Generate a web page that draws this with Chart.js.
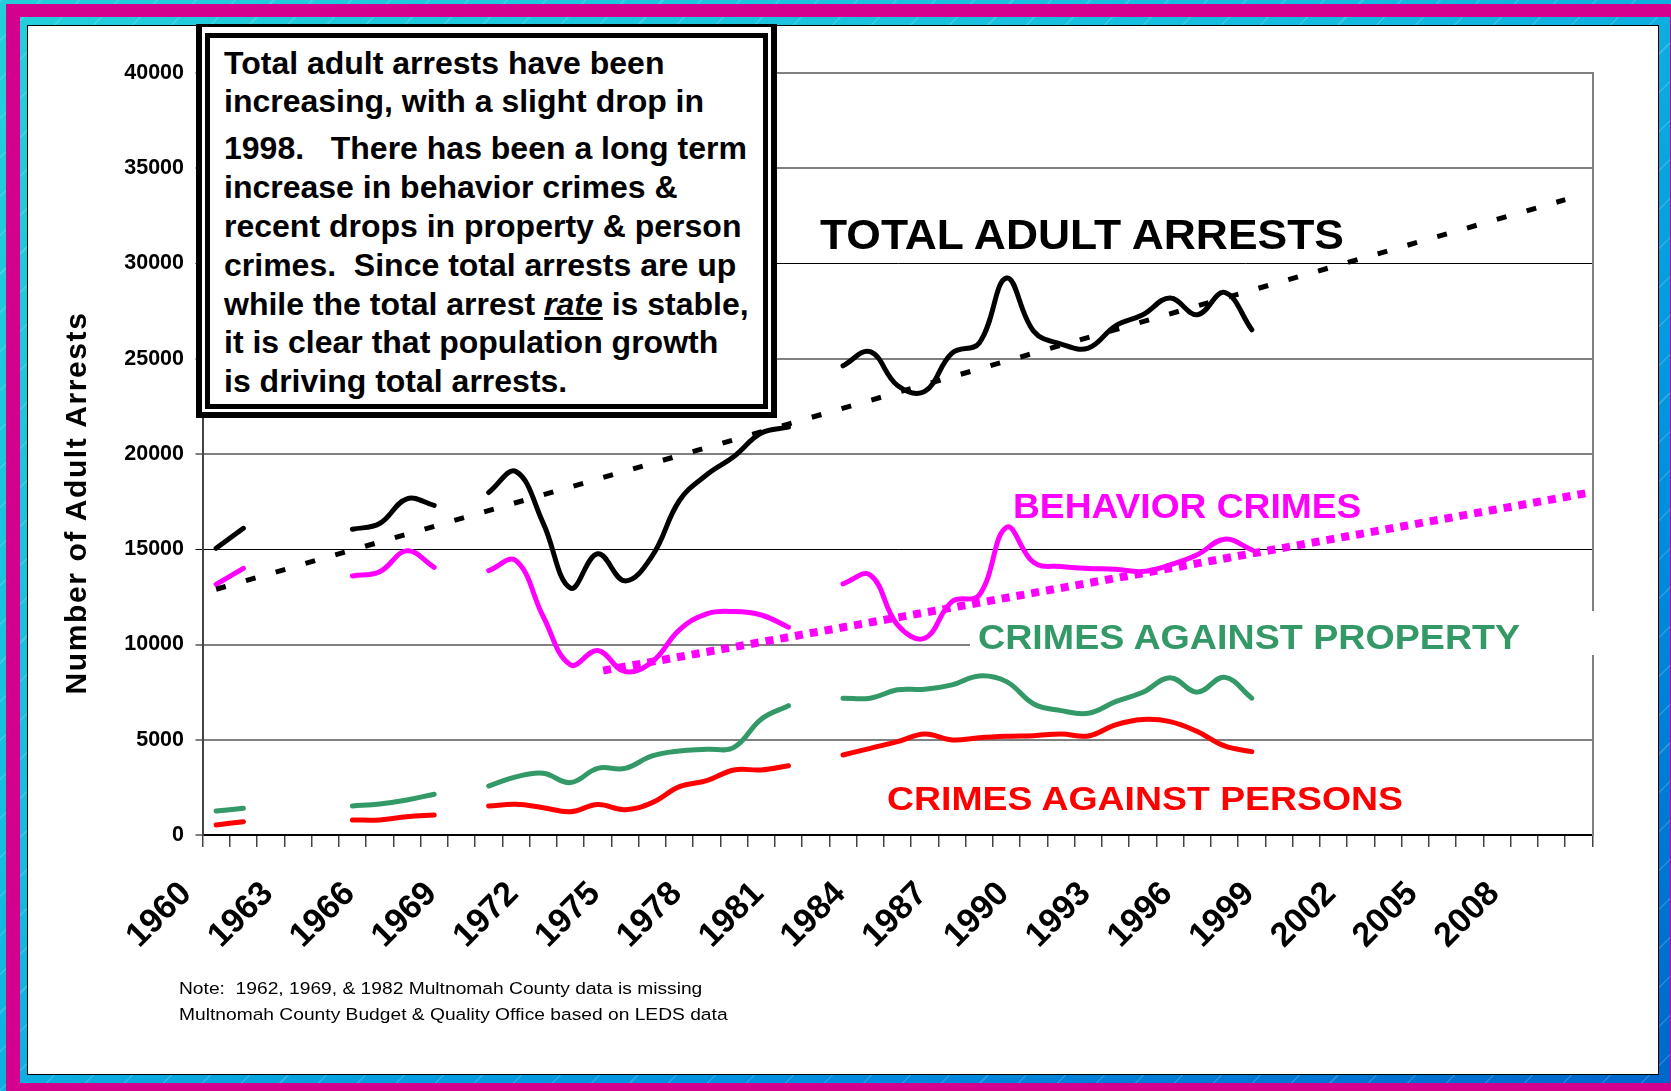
<!DOCTYPE html>
<html>
<head>
<meta charset="utf-8">
<script src="https://cdn.jsdelivr.net/npm/chart.js@4.4.1/dist/chart.umd.min.js"></script>
<style>
  html, body { margin: 0; padding: 0; }
  body {
    width: 1671px; height: 1091px; overflow: hidden; position: relative;
    background:
      repeating-linear-gradient(-45deg, rgba(255,255,255,0) 0 26px, rgba(255,255,255,0.16) 26px 27.5px),
      linear-gradient(to bottom right, #24cfdc 0%, #14bde0 40%, #0090e0 72%, #0066cc 100%);
    font-family: "Liberation Sans", Arial, sans-serif;
  }
  #frame { position: absolute; left: 6px; top: 4px; width: 1678px; height: 1093px; box-sizing: border-box;
    border: 14px solid #d4008e; border-top-width: 13px; }
  #panel { position: absolute; left: 27px; top: 25px; width: 1632px; height: 1050px; box-sizing: border-box;
    background: #fff; border: 1px solid #000; }
  #chart { position: absolute; left: 28px; top: 26px; }
  .lbl { position: absolute; white-space: nowrap; font-weight: bold; line-height: 1; transform-origin: left top; }
  #box { position: absolute; left: 196px; top: 24px; width: 581px; height: 394px; box-sizing: border-box;
    background: #fff; border: 6px solid #000; border-top-width: 3px; }
  #box .inner { position: absolute; left: 3px; top: 6px; right: 3px; bottom: 3px; border: 5px solid #000; }
  #boxtext { position: absolute; left: 224px; top: 43.5px; font-weight: bold; font-size: 32px;
    line-height: 38.8px; white-space: nowrap; color: #000; }
  #boxtext p { margin: 0; }
  #ytitle { position: absolute; left: -173.6px; top: 488px; width: 500px; height: 30px; text-align: center;
    font-weight: bold; font-size: 30px; line-height: 30px; letter-spacing: 1.6px; transform: rotate(-90deg); }
  .note { position: absolute; left: 179px; font-size: 16.3px; line-height: 1; white-space: nowrap;
    transform: scaleX(1.18); transform-origin: left top; }
  #propbg { position: absolute; left: 970px; top: 611px; width: 632px; height: 44px; background: #fff; }
</style>
</head>
<body>
<div id="frame"></div>
<div id="panel"></div>
<canvas id="chart" width="1630" height="1048" style="width:1630px;height:1048px"></canvas>

<div id="ytitle">Number of Adult Arrests</div>

<div id="box"><div class="inner"></div></div>
<div id="boxtext">
  <p>Total adult arrests have been<br>increasing, with a slight drop in</p>
  <p style="margin-top:8.4px">1998.&nbsp;&nbsp; There has been a long term<br>increase in behavior crimes &amp;<br>recent drops in property &amp; person<br>crimes.&nbsp; Since total arrests are up<br>while the total arrest <i><u>rate</u></i> is stable,<br>it is clear that population growth<br>is driving total arrests.</p>
</div>

<div class="lbl" style="left:819.8px; top:212.9px; font-size:43px; color:#000; transform:scaleX(1.033);">TOTAL ADULT ARRESTS</div>
<div class="lbl" style="left:1013.3px; top:487.7px; font-size:35px; color:#ff00ff; transform:scaleX(1.062);">BEHAVIOR CRIMES</div>
<div id="propbg"></div>
<div class="lbl" style="left:978.3px; top:620px; font-size:35.5px; color:#339966; transform:scaleX(1.06);">CRIMES AGAINST PROPERTY</div>
<div class="lbl" style="left:887.3px; top:780.9px; font-size:34px; color:#ff0000; transform:scaleX(1.1);">CRIMES AGAINST PERSONS</div>

<div class="note" style="top:979.6px;">Note:&nbsp; 1962, 1969, &amp; 1982 Multnomah County data is missing</div>
<div class="note" style="top:1005.6px;">Multnomah County Budget &amp; Quality Office based on LEDS data</div>

<script>
var years = ['1960', '1961', '1962', '1963', '1964', '1965', '1966', '1967', '1968', '1969',
             '1970', '1971', '1972', '1973', '1974', '1975', '1976', '1977', '1978', '1979',
             '1980', '1981', '1982', '1983', '1984', '1985', '1986', '1987', '1988', '1989',
             '1990', '1991', '1992', '1993', '1994', '1995', '1996', '1997', '1998', '1999',
             '2000', '2001', '2002', '2003', '2004', '2005', '2006', '2007', '2008', '2009', '2010'];
var tickYears = ['1960', '1963', '1966', '1969', '1972', '1975', '1978', '1981', '1984',
                 '1987', '1990', '1993', '1996', '1999', '2002', '2005', '2008'];

var totalArrests = [15050, 16100, null, null, null, 16050, 16350, 17650, 17300, null,
                    17980, 19080, 16370, 12960, 14760, 13340, 14650, 17560, 18910, 19870,
                    21100, 21410, null, 24630, 25370, 23600, 23290, 25300, 25830, 29240,
                    26440, 25770, 25560, 26730, 27310, 28190, 27310, 28480, 26520];
var behaviorCrimes = [13160, 14000, null, null, null, 13600, 13820, 14920, 14050, null,
                      13880, 14400, 11470, 8930, 9680, 8580, 9100, 10770, 11610, 11730,
                      11550, 10910, null, 13180, 13650, 11030, 10330, 12250, 12600, 16150,
                      14300, 14090, 13990, 13950, 13830, 14180, 14710, 15530, 14970];
var propertyCrimes = [1260, 1400, null, null, null, 1520, 1630, 1840, 2140, null,
                      2570, 3050, 3240, 2750, 3500, 3500, 4150, 4410, 4500, 4600,
                      6080, 6790, null, 7180, 7180, 7620, 7650, 7880, 8350, 8050,
                      6880, 6530, 6390, 7000, 7490, 8260, 7500, 8280, 7180];
var personsCrimes = [525, 700, null, null, null, 790, 790, 960, 1050, null,
                     1520, 1610, 1435, 1225, 1600, 1330, 1700, 2540, 2850, 3415,
                     3415, 3640, null, 4200, 4550, 4900, 5300, 4990, 5110, 5180,
                     5215, 5300, 5200, 5780, 6060, 5950, 5430, 4675, 4375];

// trend lines, end points only
var totalTrendYears = [1960, 2009.5];
var totalTrendValues = [12900, 33350];
var behaviorTrendYears = [1974.2, 2010.3];
var behaviorTrendValues = [8630, 17950];

function points(xs, ys) {
    return xs.map(function (x, i) { return { x: x, y: ys[i] }; });
}

function seriesLine(label, data, color) {
    return {
        label: label,
        data: data,
        xAxisID: 'x',
        borderColor: color,
        borderWidth: 5,
        borderCapStyle: 'round',
        borderJoinStyle: 'round',
        tension: 0.4,
        pointRadius: 0,
        spanGaps: false,
        fill: false
    };
}

Chart.defaults.font.family = '"Liberation Sans", Arial, sans-serif';
Chart.defaults.color = '#000';

var ctx = document.getElementById('chart').getContext('2d');

var myChart = new Chart(ctx, {
    type: 'line',
    data: {
        labels: years,
        datasets: [{
            label: 'Total trend',
            data: points(totalTrendYears, totalTrendValues),
            xAxisID: 'xt',
            borderColor: '#000',
            borderWidth: 5,
            borderDash: [10, 21],
            borderCapStyle: 'butt',
            tension: 0,
            pointRadius: 0,
            spanGaps: true
        }, {
            label: 'Behavior trend',
            data: points(behaviorTrendYears, behaviorTrendValues),
            xAxisID: 'xt',
            borderColor: '#ff00ff',
            borderWidth: 8,
            borderDash: [8, 7],
            borderCapStyle: 'butt',
            tension: 0,
            pointRadius: 0,
            spanGaps: true
        },
            seriesLine('Total Adult Arrests', totalArrests, '#000000'),
            seriesLine('Behavior Crimes', behaviorCrimes, '#ff00ff'),
            seriesLine('Crimes Against Property', propertyCrimes, '#339966'),
            seriesLine('Crimes Against Persons', personsCrimes, '#ff0000')
        ]
    },
    options: {
        responsive: false,
        animation: false,
        events: [],
        devicePixelRatio: 1,
        layout: { padding: { top: 47, right: 65.5, bottom: 0, left: 0 } },
        plugins: {
            legend: { display: false },
            tooltip: { enabled: false }
        },
        scales: {
            x: {
                type: 'category',
                offset: true,
                grid: {
                    offset: true,
                    drawOnChartArea: false,
                    drawTicks: true,
                    tickLength: 12,
                    color: '#444',
                    lineWidth: 1.5
                },
                border: { display: true, color: '#000', width: 2 },
                ticks: {
                    autoSkip: false,
                    minRotation: 45,
                    maxRotation: 45,
                    padding: 27,
                    labelOffset: -30,
                    color: '#000',
                    font: { size: 34, weight: 'bold' },
                    callback: function (value) {
                        var lab = this.getLabelForValue(value);
                        return tickYears.indexOf(lab) >= 0 ? lab : '';
                    }
                },
                afterFit: function (scale) { scale.height = 239; }
            },
            xt: {
                type: 'linear',
                display: false,
                position: 'bottom',
                min: 1959.5,
                max: 2010.5
            },
            y: {
                min: 0,
                max: 40000,
                ticks: {
                    stepSize: 5000,
                    padding: 11.5,
                    color: '#000',
                    font: { size: 21.5, weight: 'bold' },
                    callback: function (value) { return String(value); }
                },
                grid: {
                    tickLength: 7,
                    color: function (c) {
                        return c.tick && (c.tick.value === 15000 || c.tick.value === 30000) ? '#000' : '#808080';
                    },
                    lineWidth: function (c) {
                        return c.tick && (c.tick.value === 15000 || c.tick.value === 30000) ? 1 : 2;
                    }
                },
                border: { display: true, color: '#444', width: 2 },
                afterFit: function (scale) { scale.width = 174.5; }
            },
            y2: {
                position: 'right',
                grid: { drawOnChartArea: false, drawTicks: false },
                ticks: { display: false },
                border: { display: true, color: '#808080', width: 2 },
                afterFit: function (scale) { scale.width = 0; }
            }
        }
    }
});
</script>
</body>
</html>
